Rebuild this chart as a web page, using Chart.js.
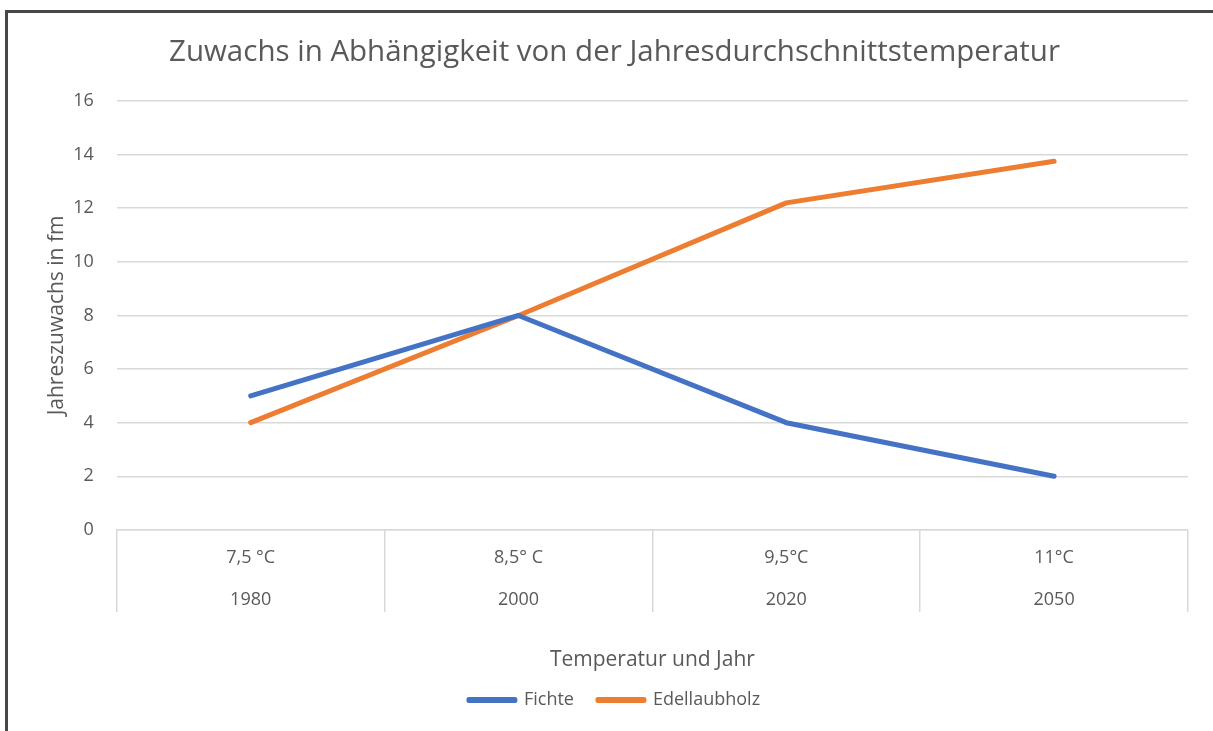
<!DOCTYPE html>
<html lang="de">
<head>
    <meta charset="UTF-8">
    <title>Zuwachs in Abhängigkeit von der Jahresdurchschnittstemperatur</title>
    <script src="https://cdn.jsdelivr.net/npm/chart.js"></script>
    <style>
        body {
            margin: 0;
            background: #fff;
            overflow: hidden;
        }
        #chart {
            position: absolute;
            left: 0;
            top: 0;
        }
        .frame {
            position: absolute;
            left: 5px;
            top: 10px;
            width: 1300px;
            height: 800px;
            border-top: 3px solid #474747;
            border-left: 3px solid #474747;
            pointer-events: none;
        }
    </style>
</head>
<body>
    <canvas id="chart" width="1213" height="731"></canvas>
    <div class="frame"></div>
    <script>
        // Kategorien (Temperatur + Jahr)
        const temperaturen = ['7,5 °C', '8,5° C', '9,5°C', '11°C'];
        const jahre = ['1980', '2000', '2020', '2050'];

        // Jahreszuwachs in fm
        const fichte = [5, 8, 4, 2];
        const edellaubholz = [4, 8, 12.2, 13.75];

        const labels = temperaturen.map((t, i) => [t, jahre[i]]);

        const grau = '#595959';
        const linie = '#d9d9d9';
        const schrift = '"Open Sans", sans-serif';

        const ctx = document.getElementById('chart').getContext('2d');
        new Chart(ctx, {
            type: 'line',
            data: {
                labels: labels,
                datasets: [
                    {
                        label: 'Fichte',
                        data: fichte,
                        borderColor: '#4472C4',
                        backgroundColor: '#4472C4',
                        borderWidth: 5,
                        pointRadius: 0,
                        borderCapStyle: 'round',
                        borderJoinStyle: 'round'
                    },
                    {
                        label: 'Edellaubholz',
                        data: edellaubholz,
                        borderColor: '#ED7D31',
                        backgroundColor: '#ED7D31',
                        borderWidth: 5,
                        pointRadius: 0,
                        borderCapStyle: 'round',
                        borderJoinStyle: 'round'
                    }
                ]
            },
            options: {
                responsive: false,
                animation: false,
                layout: {
                    padding: { top: 20, left: 41, right: 25, bottom: 12 }
                },
                plugins: {
                    title: {
                        display: true,
                        text: 'Zuwachs in Abhängigkeit von der Jahresdurchschnittstemperatur',
                        color: grau,
                        font: { family: schrift, size: 29.5, weight: 'normal' },
                        padding: { top: 15, bottom: 30.6 }
                    },
                    legend: {
                        position: 'bottom',
                        labels: {
                            color: grau,
                            font: { family: schrift, size: 18 },
                            boxWidth: 46,
                            boxHeight: 1,
                            padding: 24
                        }
                    },
                    tooltip: { enabled: false }
                },
                scales: {
                    x: {
                        offset: true,
                        border: { display: true, color: linie, width: 1.5 },
                        grid: {
                            offset: true,
                            drawOnChartArea: false,
                            color: linie,
                            lineWidth: 1.5,
                            tickLength: 82
                        },
                        ticks: {
                            color: grau,
                            font: { family: schrift, size: 18, lineHeight: 2.33 },
                            padding: -75,
                            maxRotation: 0
                        },
                        title: {
                            display: true,
                            text: 'Temperatur und Jahr',
                            color: grau,
                            font: { family: schrift, size: 21 },
                            padding: { top: 102, bottom: -6 }
                        }
                    },
                    y: {
                        min: 0,
                        max: 16,
                        border: { display: false },
                        grid: {
                            color: linie,
                            lineWidth: 1.5,
                            drawTicks: false
                        },
                        ticks: {
                            stepSize: 2,
                            color: grau,
                            font: { family: schrift, size: 18 },
                            padding: 23
                        },
                        title: {
                            display: true,
                            text: 'Jahreszuwachs in fm',
                            color: grau,
                            font: { family: schrift, size: 21 },
                            padding: { top: 3, bottom: -19 }
                        }
                    }
                }
            }
        });
    </script>
</body>
</html>
